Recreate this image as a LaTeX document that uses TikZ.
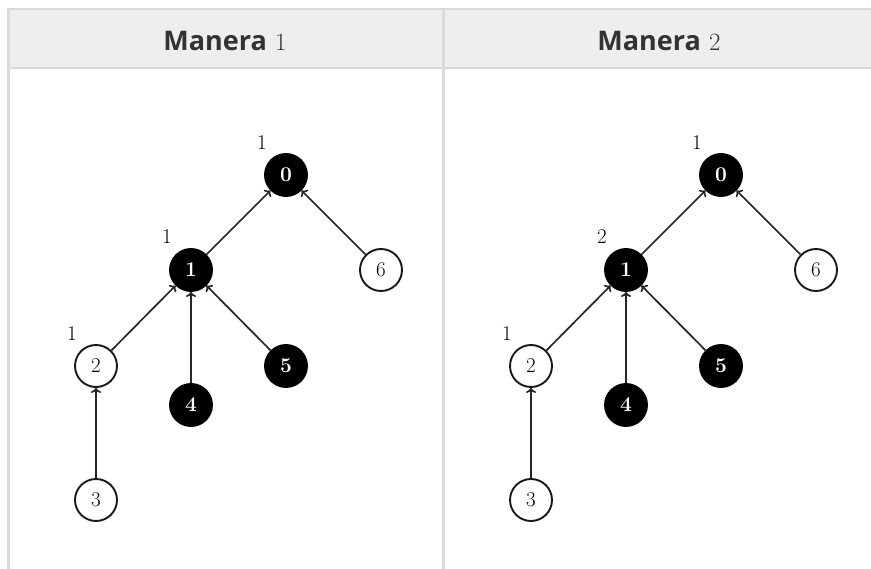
\documentclass[tikz,border=0pt]{standalone}
\usepackage{fontspec}
\newfontfamily\hdrfont{Open Sans}
\usetikzlibrary{arrows.meta}
\definecolor{hdrbg}{HTML}{EEEEEE}
\definecolor{rulecol}{HTML}{DADADA}
\definecolor{hdrtext}{HTML}{333333}
\begin{document}
\begin{tikzpicture}[x=1pt,y=-1pt,
  wnode/.style={circle,draw=black!90,line width=1.9pt,fill=white,minimum size=42pt,inner sep=0pt,font=\fontsize{21}{22}\selectfont},
  bnode/.style={circle,fill=black,draw=black,line width=1.9pt,minimum size=42pt,inner sep=0pt,text=white,font=\fontsize{21}{22}\selectfont\bfseries},
  lbl/.style={font=\fontsize{21}{22}\selectfont,inner sep=0pt},
  edgeln/.style={line width=1.7pt,draw=black!85,-{To[length=5pt,width=10pt]}},
  hdr/.style={font=\fontsize{27}{30}\selectfont,text=hdrtext,anchor=base,inner sep=0pt}]
\useasboundingbox (0,0) rectangle (871,569);
\fill[white] (0,0) rectangle (871,569);
\fill[hdrbg] (8,8) rectangle (871,68);
\draw[rulecol,line width=2.5pt] (871,9) -- (8.5,9) -- (8.5,569);
\draw[rulecol,line width=2.5pt] (8,68) -- (871,68);
\draw[rulecol,line width=2.5pt] (443.5,9) -- (443.5,569);
\node[hdr] (h1) at (225,51) {{\hdrfont\bfseries Manera} {\fontsize{30}{32}\selectfont$1$}};
\node[hdr] (h2) at (659,51) {{\hdrfont\bfseries Manera} {\fontsize{30}{32}\selectfont$2$}};
\foreach \dx/\t/\lb in {0/a/1,435/b/2}{
  \begin{scope}[xshift=\dx pt]
    \node[bnode] (\t0) at (286,175) {0};
    \node[bnode] (\t1) at (191,270) {1};
    \node[wnode] (\t6) at (381,270) {6};
    \node[wnode] (\t2) at (96,366) {2};
    \node[bnode] (\t5) at (286,366) {5};
    \node[bnode] (\t4) at (191,405) {4};
    \node[wnode] (\t3) at (96,500) {3};
    \node[lbl] (\t L0) at (262,143) {1};
    \node[lbl] (\t L1) at (167,237) {\lb};
    \node[lbl] (\t L2) at (72,334) {1};
    \draw[edgeln] (\t1) -- (\t0);
    \draw[edgeln] (\t6) -- (\t0);
    \draw[edgeln] (\t2) -- (\t1);
    \draw[edgeln] (\t4) -- (\t1);
    \draw[edgeln] (\t5) -- (\t1);
    \draw[edgeln] (\t3) -- (\t2);
  \end{scope}
}
\end{tikzpicture}
\end{document}
